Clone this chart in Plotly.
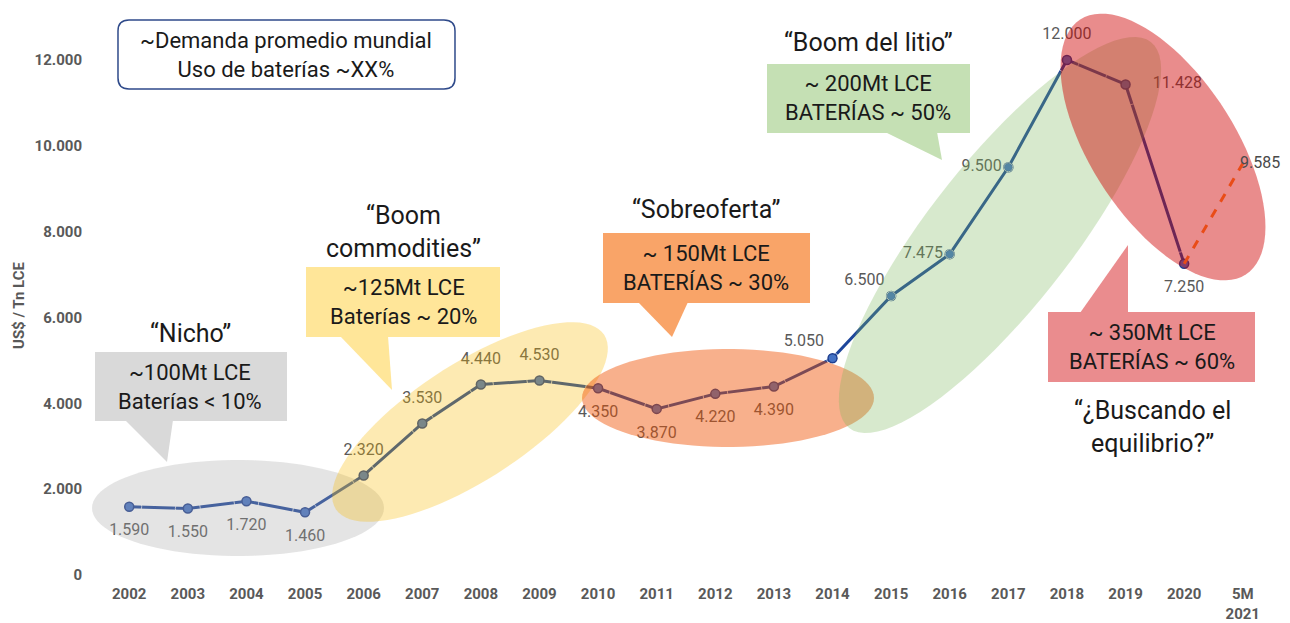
import math
import plotly.graph_objects as go

# ---------------- data ----------------
years = ["2002", "2003", "2004", "2005", "2006", "2007", "2008", "2009", "2010",
         "2011", "2012", "2013", "2014", "2015", "2016", "2017", "2018", "2019",
         "2020", "5M<br>2021"]
prices = [1590, 1550, 1720, 1460, 2320, 3530, 4440, 4530, 4350, 3870, 4220,
          4390, 5050, 6500, 7475, 9500, 12000, 11428, 7250]
forecast_years = ["2020", "5M<br>2021"]
forecast_prices = [7250, 9585]
label_pos = ["bottom center"] * 4 + ["top center"] * 4 + ["bottom center"] * 4 + \
            ["top left", "top left", "middle left", "middle left", "top center",
             "middle right", "bottom center"]
# invisible marker sizes used only to space the value labels from the points
label_gap = [25] * 12 + [12, 9, 9, 9, 25, 42, 25]
y_ticks = [0, 2000, 4000, 6000, 8000, 10000, 12000]

# page body has an 8px margin: figure pixel = screen pixel - 8
OFF = 8
W, H = 1282, 615
FONT = "Roboto, Arial, sans-serif"
GRAY = "#595959"


def X(px):
    return (px - OFF) / W


def Y(py):
    return 1 - (py - OFF) / H


xpos = list(range(len(years)))
pos_of = {y: i for i, y in enumerate(years)}
px_years = xpos[:len(prices)]

fig = go.Figure()
fig.add_trace(go.Scatter(
    x=px_years, y=prices, mode="lines+markers",
    line=dict(color="#1E469B", width=3),
    marker=dict(size=9, color="#4472C4", line=dict(color="#1F3F8F", width=1.5)),
    hoverinfo="skip", showlegend=False, cliponaxis=False,
))
fig.add_trace(go.Scatter(
    x=[pos_of[y] for y in forecast_years], y=forecast_prices, mode="lines",
    line=dict(color="#FF8A2A", width=3, dash="dash"),
    hoverinfo="skip", showlegend=False, cliponaxis=False,
))
# value labels
fig.add_trace(go.Scatter(
    x=px_years, y=prices, mode="markers+text",
    marker=dict(size=label_gap, color="rgba(0,0,0,0)"),
    texttemplate="%{y:,.0f}", textposition=label_pos,
    textfont=dict(family=FONT, size=16, color=GRAY),
    hoverinfo="skip", showlegend=False, cliponaxis=False,
))


def ellipse_path(cx, cy, a, b, deg, n=90):
    th = math.radians(deg)
    pts = []
    for i in range(n):
        t = 2 * math.pi * i / n
        x = cx + a * math.cos(t) * math.cos(th) - b * math.sin(t) * math.sin(th)
        y = cy - (a * math.cos(t) * math.sin(th) + b * math.sin(t) * math.cos(th))
        pts.append(f"{X(x):.5f},{Y(y):.5f}")
    return "M " + " L ".join(pts) + " Z"


def poly_path(points):
    return "M " + " L ".join(f"{X(x):.5f},{Y(y):.5f}" for x, y in points) + " Z"


shapes = []
ellipses = [
    ((238, 508, 146, 48, 0), "rgba(165,165,165,0.30)"),
    ((470, 422, 160, 58, 33), "rgba(248,185,0,0.30)"),
    ((728, 398, 146, 49, 0), "rgba(240,80,0,0.45)"),
    ((1000, 235, 245, 72, 52), "rgba(122,182,88,0.30)"),
    ((1163, 147, 152, 72, -57), "rgba(207,0,0,0.45)"),
]
for (cx, cy, a, b, d), col in ellipses:
    shapes.append(dict(type="path", xref="paper", yref="paper",
                       path=ellipse_path(cx, cy, a, b, d), fillcolor=col,
                       line=dict(width=0), layer="above"))

# callouts: box (x0,y0,x1,y1) + pointer triangle
callouts = [
    ((95, 352, 287, 421), [(125, 420), (173, 420), (167, 462)], "#D9D9D9"),
    ((306, 267, 500, 337), [(340, 336), (388, 336), (392, 390)], "#FFE699"),
    ((603, 233, 810, 303), [(638, 302), (688, 302), (672, 337)], "#F9A468"),
    ((767, 64, 970, 133), [(885, 132), (937, 132), (942, 160)], "#C5E0B4"),
    ((1048, 312, 1255, 382), [(1080, 313), (1128, 313), (1128, 245)], "#EA8C8E"),
]
for (x0, y0, x1, y1), tri, col in callouts:
    shapes.append(dict(type="path", xref="paper", yref="paper",
                       path=poly_path([(x0, y0), (x1, y0), (x1, y1), (x0, y1)]),
                       fillcolor=col, line=dict(width=0), layer="above"))
    shapes.append(dict(type="path", xref="paper", yref="paper",
                       path=poly_path(tri), fillcolor=col,
                       line=dict(width=0), layer="above"))

# rounded box top-left
x0, y0, x1, y1, r = 118, 20, 455, 89, 11
rp = (f"M {X(x0 + r):.5f},{Y(y0):.5f} L {X(x1 - r):.5f},{Y(y0):.5f} "
      f"Q {X(x1):.5f},{Y(y0):.5f} {X(x1):.5f},{Y(y0 + r):.5f} "
      f"L {X(x1):.5f},{Y(y1 - r):.5f} Q {X(x1):.5f},{Y(y1):.5f} {X(x1 - r):.5f},{Y(y1):.5f} "
      f"L {X(x0 + r):.5f},{Y(y1):.5f} Q {X(x0):.5f},{Y(y1):.5f} {X(x0):.5f},{Y(y1 - r):.5f} "
      f"L {X(x0):.5f},{Y(y0 + r):.5f} Q {X(x0):.5f},{Y(y0):.5f} {X(x0 + r):.5f},{Y(y0):.5f} Z")
shapes.append(dict(type="path", xref="paper", yref="paper", path=rp,
                   fillcolor="white", line=dict(color="#2F4A8A", width=1.5),
                   layer="above"))

annotations = []

# forecast value label (anchored on the data point)
annotations.append(dict(
    x=pos_of[forecast_years[-1]], y=forecast_prices[-1], xref="x", yref="y",
    text=f"{forecast_prices[-1]:,}".replace(",", "."), showarrow=False,
    xanchor="left", yanchor="middle", xshift=-5, yshift=1,
    font=dict(family=FONT, size=16, color="#4a4a4a")))


def note(px, py, text, size, color="#1a1a1a", angle=0, bold=False):
    annotations.append(dict(
        x=X(px), y=Y(py), xref="paper", yref="paper", text=text, showarrow=False,
        xanchor="center", yanchor="middle", align="center", textangle=angle,
        font=dict(family=FONT, size=size, color=color,
                  weight="bold" if bold else "normal")))


note(286, 55, "~Demanda promedio mundial<br>Uso de baterías ~XX%", 22)
note(190, 333, "“Nicho”", 25)
note(190, 387, "~100Mt LCE<br>Baterías &lt; 10%", 22)
note(403, 232, "“Boom<br>commodities”", 25)
note(403, 302, "~125Mt LCE<br>Baterías ~ 20%", 22)
note(706, 210, "“Sobreoferta”", 25)
note(706, 268, "~ 150Mt LCE<br>BATERÍAS ~ 30%", 22)
note(868, 42, "“Boom del litio”", 25)
note(868, 98, "~ 200Mt LCE<br>BATERÍAS ~ 50%", 22)
note(1152, 347, "~ 350Mt LCE<br>BATERÍAS ~ 60%", 22)
note(1152, 427, "“¿Buscando el<br>equilibrio?”", 25)
note(19, 305, "US$ / Tn LCE", 15, color=GRAY, angle=-90, bold=True)

fig.update_layout(
    width=W, height=H, margin=dict(l=0, r=0, t=0, b=0),
    paper_bgcolor="white", plot_bgcolor="white",
    separators=",.", template="none",
    shapes=shapes, annotations=annotations,
    font=dict(family=FONT),
    xaxis=dict(domain=[X(97), X(1275)], range=[-0.55, len(years) - 0.45],
               tickvals=xpos, ticktext=years, showgrid=False, zeroline=False,
               showline=False, ticks="", automargin=False, ticklabelstandoff=8,
               tickfont=dict(family=FONT, size=15, color=GRAY, weight="bold")),
    yaxis=dict(domain=[Y(575), Y(17)], range=[0, 13000], tickvals=y_ticks,
               tickformat=",.0f", showgrid=False, zeroline=False, showline=False,
               ticks="", automargin=False, ticklabelstandoff=14,
               tickfont=dict(family=FONT, size=15, color=GRAY, weight="bold")),
)

fig.write_html("out.html")
